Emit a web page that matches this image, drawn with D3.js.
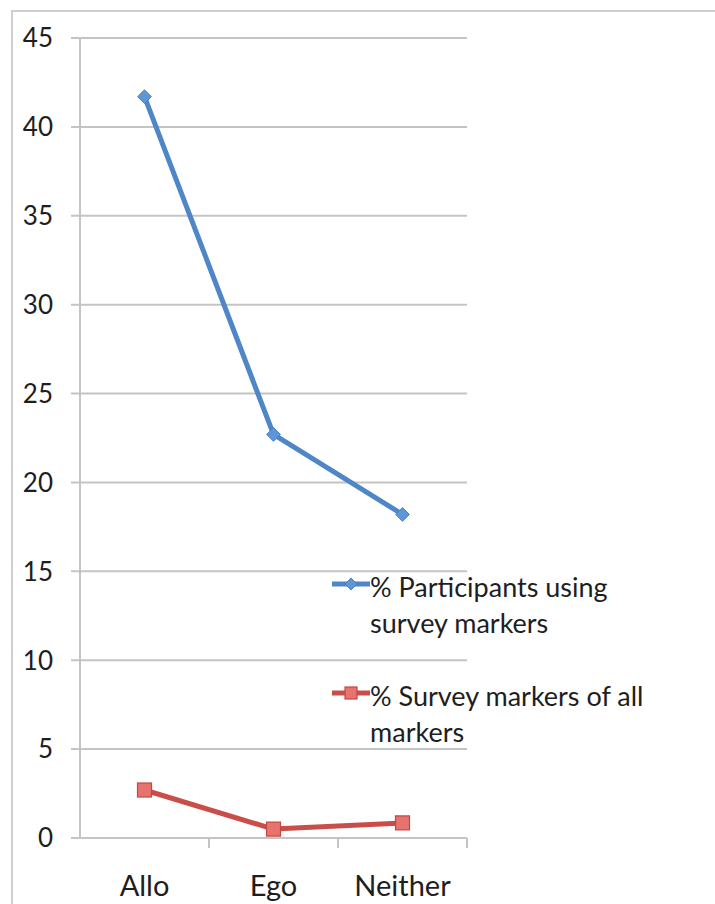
<!DOCTYPE html>
<html>
<head>
<meta charset="utf-8">
<script src="https://cdn.jsdelivr.net/npm/d3@7"></script>
<style>
  html, body { margin: 0; padding: 0; background: #fff; }
  svg { display: block; }
  text { font-family: Lato, "Open Sans", "Liberation Sans", sans-serif; fill: #1e1e1e; }
</style>
</head>
<body>
<script>
// Categories and series
const categories = ["Allo", "Ego", "Neither"];
const participantsPct = [41.7, 22.7, 18.2];
const surveyMarkersPct = [2.7, 0.5, 0.85];
const yTicks = [0, 5, 10, 15, 20, 25, 30, 35, 40, 45];
const seriesNames = [["% Participants using", "survey markers"], ["% Survey markers of all", "markers"]];

const W = 715, H = 904;
const svg = d3.select("body").append("svg").attr("width", W).attr("height", H);

// chart frame
svg.append("path")
  .attr("d", `M12,${H} L12,11 L${W},11`)
  .attr("fill", "none").attr("stroke", "#cfcfcf").attr("stroke-width", 2);

const plot = { left: 80, right: 467, top: 38, bottom: 838 };

const x = d3.scaleBand().domain(categories).range([plot.left, plot.right]);
const y = d3.scaleLinear().domain([0, 45]).range([plot.bottom, plot.top]);

// horizontal gridlines with left tick stubs
svg.append("g").selectAll("line").data(yTicks).join("line")
  .attr("x1", plot.left - 9).attr("x2", plot.right)
  .attr("y1", d => y(d)).attr("y2", d => y(d))
  .attr("stroke", "#c4c4c4").attr("stroke-width", 2);

// y labels
svg.append("g").selectAll("text").data(yTicks).join("text")
  .attr("x", 53).attr("y", d => y(d)).attr("dy", "0.36em")
  .attr("text-anchor", "end").attr("font-size", 26)
  .text(d => d);

// vertical axis
svg.append("line")
  .attr("x1", plot.left).attr("x2", plot.left)
  .attr("y1", plot.top).attr("y2", plot.bottom)
  .attr("stroke", "#c4c4c4").attr("stroke-width", 2);

// category boundary ticks
const bounds = categories.map(c => x(c)).concat([plot.right]);
svg.append("g").selectAll("line").data(bounds.slice(1)).join("line")
  .attr("x1", d => d).attr("x2", d => d)
  .attr("y1", plot.bottom).attr("y2", plot.bottom + 10)
  .attr("stroke", "#c4c4c4").attr("stroke-width", 2);

// category labels
svg.append("g").selectAll("text").data(categories).join("text")
  .attr("x", d => x(d) + x.bandwidth() / 2).attr("y", 896)
  .attr("text-anchor", "middle").attr("font-size", 29)
  .text(d => d);

const cx = c => x(c) + x.bandwidth() / 2;
const blue = "#4f86c8", red = "#c94e4a";

const line = d3.line().x(d => cx(d.c)).y(d => y(d.v));
const blueData = categories.map((c, i) => ({ c, v: participantsPct[i] }));
const redData = categories.map((c, i) => ({ c, v: surveyMarkersPct[i] }));

svg.append("path").datum(blueData).attr("d", line)
  .attr("fill", "none").attr("stroke", blue).attr("stroke-width", 5).attr("stroke-linejoin", "round");
svg.append("path").datum(redData).attr("d", line)
  .attr("fill", "none").attr("stroke", red).attr("stroke-width", 5).attr("stroke-linejoin", "round");

function drawDiamond(g, px, py, s) {
  g.append("path").attr("d", d3.symbol().type(d3.symbolDiamond2).size(s || 120)())
    .attr("transform", `translate(${px},${py})`)
    .attr("fill", "#5e97d9").attr("stroke", "#4a80c2").attr("stroke-width", 1);
}
function drawSquare(g, px, py, h) {
  h = h || 7;
  g.append("rect").attr("x", px - h).attr("y", py - h).attr("width", 2 * h).attr("height", 2 * h)
    .attr("fill", "#e8726e").attr("stroke", "#c24844").attr("stroke-width", 1.2);
}

const mk = svg.append("g");
blueData.forEach(d => drawDiamond(mk, cx(d.c), y(d.v)));
redData.forEach(d => drawSquare(mk, cx(d.c), y(d.v)));

// legend
const leg = svg.append("g");
const legX0 = 332, legX1 = 370;
const legRows = [{ y: 584, color: blue, kind: "d" }, { y: 693, color: red, kind: "s" }];
legRows.forEach((r, i) => {
  leg.append("line").attr("x1", legX0).attr("x2", legX1).attr("y1", r.y).attr("y2", r.y)
    .attr("stroke", r.color).attr("stroke-width", 5);
  if (r.kind === "d") drawDiamond(leg, (legX0 + legX1) / 2, r.y, 90);
  else drawSquare(leg, (legX0 + legX1) / 2, r.y, 6);
  seriesNames[i].forEach((t, j) => {
    leg.append("text").attr("x", 370).attr("y", r.y + 13 + j * 36)
      .attr("font-size", 27).text(t);
  });
});
</script>
</body>
</html>
